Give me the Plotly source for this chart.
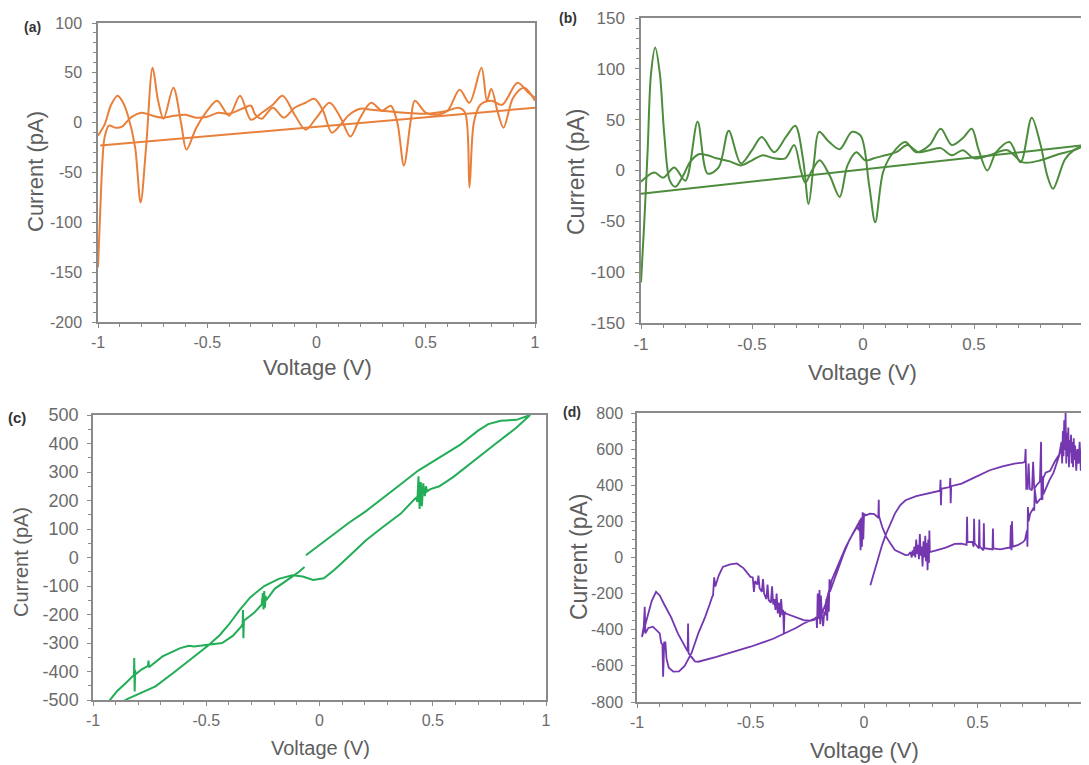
import plotly.graph_objects as go

W, H = 1089, 765

# ---------------- data (voltage V, current pA) ----------------
# Panel (a)
A_WAVE1 = [(-1.0, -13), (-0.97, -2), (-0.94, 18), (-0.91, 27), (-0.885, 20), (-0.86, 5), (-0.83, -25),
           (-0.805, -80), (-0.78, -25), (-0.75, 55), (-0.725, 22), (-0.70, 4), (-0.655, 35), (-0.62, 0),
           (-0.595, -27), (-0.55, -5), (-0.50, 12), (-0.455, 22), (-0.40, 7), (-0.35, 27), (-0.30, 3),
           (-0.25, 10), (-0.20, 18), (-0.155, 27), (-0.10, 8), (-0.05, -7), (0.0, 5), (0.06, 20),
           (0.11, 5), (0.155, -14), (0.20, 5), (0.25, 20), (0.30, 12), (0.34, 17), (0.37, 0),
           (0.40, -43), (0.43, 0), (0.45, 22), (0.50, 10), (0.55, 8), (0.60, 12), (0.655, 33),
           (0.70, 20), (0.755, 55), (0.78, 22), (0.80, 34), (0.83, 10), (0.856, -5), (0.90, 25),
           (0.95, 35), (1.0, 22)]
A_WAVE2 = [(-1.0, -145), (-0.99, -90), (-0.98, -40), (-0.97, -15), (-0.95, -3), (-0.92, -5), (-0.89, -4),
           (-0.85, 5), (-0.80, 10), (-0.75, 7), (-0.70, 5), (-0.65, 7), (-0.60, 8), (-0.55, 5),
           (-0.50, 6), (-0.45, 10), (-0.40, 9), (-0.33, 15), (-0.30, 17), (-0.28, 8), (-0.25, 4),
           (-0.20, 15), (-0.15, 5), (-0.10, 15), (-0.05, 20), (-0.01, 24), (0.03, 12), (0.07, -10),
           (0.11, -2), (0.15, 8), (0.20, 14), (0.25, 13), (0.30, 12), (0.40, 10), (0.50, 9),
           (0.60, 12), (0.65, 15), (0.68, 10), (0.70, -65), (0.72, 0), (0.75, 18), (0.80, 22),
           (0.85, 18), (0.92, 40), (0.97, 30), (1.0, 25)]
A_LINE = [(1.0, 15), (-0.99, -23)]

# Panel (b)
B_WAVE1 = [(-1.0, -110), (-0.985, -50), (-0.97, 20), (-0.955, 95), (-0.936, 121), (-0.915, 95),
           (-0.895, 35), (-0.87, -10), (-0.845, -16), (-0.81, -5), (-0.78, 8), (-0.74, 16), (-0.70, 15),
           (-0.66, 12), (-0.60, 9), (-0.55, 5), (-0.50, 10), (-0.45, 15), (-0.40, 12), (-0.35, 12),
           (-0.31, 25), (-0.28, 0), (-0.26, -12), (-0.23, 0), (-0.195, 10), (-0.15, -5), (-0.105, -26),
           (-0.07, 5), (-0.03, 18), (0.01, 10), (0.05, 12), (0.10, 15), (0.15, 18), (0.20, 25),
           (0.25, 18), (0.30, 20), (0.35, 22), (0.40, 15), (0.45, 20), (0.50, 12), (0.57, 15),
           (0.65, 20), (0.72, 8), (0.80, 10), (0.88, 16), (0.95, 20), (1.0, 25)]
B_WAVE2 = [(-1.0, -11), (-0.94, -2), (-0.90, -7), (-0.85, 3), (-0.80, -10), (-0.745, 48), (-0.70, -3),
           (-0.65, 3), (-0.605, 39), (-0.55, 7), (-0.50, 20), (-0.456, 33), (-0.40, 18), (-0.347, 33),
           (-0.305, 44), (-0.27, 11), (-0.245, -33), (-0.22, 10), (-0.198, 38), (-0.152, 28),
           (-0.105, 21), (-0.05, 38), (-0.01, 34), (0.028, -15), (0.055, -51), (0.09, -2), (0.13, 16),
           (0.19, 28), (0.24, 18), (0.30, 25), (0.35, 41), (0.40, 25), (0.45, 32), (0.49, 41),
           (0.52, 21), (0.56, 0), (0.60, 18), (0.66, 28), (0.71, 8), (0.76, 52), (0.80, 25),
           (0.83, -5), (0.856, -18), (0.91, 11), (0.95, 20), (1.0, 25)]
B_LINE = [(1.0, 25), (-1.0, -23)]

# Panel (c)
C_UPPER = [(-0.06, 8), (0.0, 45), (0.065, 84), (0.13, 122), (0.204, 162), (0.28, 210), (0.36, 258),
           (0.436, 305), (0.53, 350), (0.62, 395), (0.70, 445), (0.745, 468), (0.80, 480), (0.87, 483),
           (0.93, 500)]
C_LOWER = [(0.87, 456), (0.776, 398), (0.683, 340), (0.59, 282), (0.529, 250), (0.49, 240), (0.475, 232),
           (0.47, 250), (0.465, 215), (0.458, 260), (0.452, 180), (0.447, 265), (0.442, 170),
           (0.437, 285), (0.432, 195), (0.428, 210), (0.42, 205), (0.359, 154), (0.28, 107),
           (0.204, 60), (0.127, 2), (0.065, -44), (0.019, -73), (-0.028, -79), (-0.074, -67),
           (-0.12, -62)]
C_STEEP = [(-0.18, -75), (-0.244, -100), (-0.306, -140), (-0.353, -185), (-0.40, -235), (-0.44, -272),
           (-0.49, -308), (-0.569, -358), (-0.646, -405), (-0.724, -452), (-0.80, -481), (-0.847, -496),
           (-0.88, -512), (-0.93, -515)]
C_PLATEAU = [(-0.925, -500), (-0.894, -469), (-0.847, -434), (-0.825, -418), (-0.819, -412),
             (-0.818, -353), (-0.816, -470), (-0.814, -395), (-0.812, -410), (-0.786, -393),
             (-0.757, -380), (-0.755, -362), (-0.753, -385), (-0.693, -347), (-0.615, -318),
             (-0.577, -310), (-0.554, -312), (-0.492, -306), (-0.43, -300), (-0.383, -275),
             (-0.345, -242), (-0.339, -232), (-0.338, -184), (-0.336, -283), (-0.334, -222),
             (-0.29, -195), (-0.255, -165), (-0.25, -125), (-0.247, -182), (-0.244, -118),
             (-0.241, -176), (-0.238, -135), (-0.235, -150), (-0.198, -110), (-0.136, -75),
             (-0.097, -54), (-0.066, -33)]

# Panel (d)
D_UPPER = [(0.028, -153), (0.045, -80), (0.059, -15), (0.08, 70), (0.098, 133), (0.12, 200), (0.136, 243),
           (0.16, 290), (0.183, 317), (0.23, 340), (0.276, 354), (0.31, 362), (0.335, 370), (0.337, 430),
           (0.339, 290), (0.341, 380), (0.36, 385), (0.378, 390), (0.38, 440), (0.382, 300),
           (0.384, 395), (0.43, 409), (0.49, 445), (0.554, 483), (0.61, 505), (0.663, 520), (0.70, 525),
           (0.709, 529), (0.712, 600), (0.715, 380), (0.72, 380), (0.725, 520), (0.73, 380), (0.74, 372),
           (0.745, 530), (0.75, 380), (0.76, 400), (0.775, 420), (0.78, 640), (0.782, 320), (0.79, 440),
           (0.80, 470), (0.82, 480), (0.84, 530), (0.86, 570), (0.87, 640), (0.873, 520), (0.876, 700),
           (0.879, 560), (0.882, 760), (0.885, 600), (0.888, 800), (0.891, 520), (0.894, 690),
           (0.897, 560), (0.90, 720), (0.903, 500), (0.906, 650), (0.909, 580), (0.912, 680),
           (0.915, 520), (0.918, 640), (0.921, 500), (0.924, 660), (0.927, 540), (0.93, 620),
           (0.935, 480), (0.94, 600), (0.945, 520), (0.95, 640), (0.955, 480), (0.96, 610),
           (0.965, 510), (0.97, 580), (0.975, 470), (0.98, 560), (0.985, 500), (0.99, 540)]
D_RETURN = [(0.99, 530), (0.96, 560), (0.93, 590), (0.90, 600), (0.87, 600), (0.864, 580), (0.85, 520),
            (0.835, 470), (0.817, 428), (0.80, 380), (0.79, 350), (0.788, 450), (0.786, 320),
            (0.78, 330), (0.771, 317), (0.76, 300), (0.752, 380), (0.75, 260), (0.745, 270),
            (0.732, 243), (0.725, 200), (0.722, 280), (0.72, 60), (0.718, 150), (0.709, 96),
            (0.70, 85), (0.68, 70), (0.66, 62), (0.655, 60), (0.652, 200), (0.65, 40), (0.647, 180),
            (0.644, 50), (0.64, 55), (0.62, 50), (0.60, 45), (0.585, 48), (0.57, 50), (0.568, 160),
            (0.566, 45), (0.53, 52), (0.528, 190), (0.526, 40), (0.51, 60), (0.508, 210), (0.506, 50),
            (0.487, 80), (0.485, 215), (0.483, 60), (0.477, 87), (0.456, 85), (0.454, 225),
            (0.452, 70), (0.43, 77), (0.40, 75), (0.36, 55), (0.322, 41), (0.30, 35), (0.29, 30),
            (0.288, 150), (0.286, -30), (0.283, 100), (0.28, -70), (0.277, 80), (0.273, -20),
            (0.27, 120), (0.266, 0), (0.262, 90), (0.258, -50), (0.254, 60), (0.25, 10), (0.246, 130),
            (0.242, -10), (0.238, 70), (0.234, 20), (0.23, 100), (0.226, 0), (0.222, 60), (0.218, 10),
            (0.214, 40), (0.21, 0), (0.205, 30), (0.195, 15), (0.183, 13), (0.16, 25), (0.136, 41),
            (0.118, 75), (0.098, 114), (0.08, 170), (0.07, 210), (0.066, 230), (0.065, 320),
            (0.063, 220), (0.045, 240), (0.028, 243), (0.01, 235), (0.0, 240), (-0.003, 100),
            (-0.006, 250), (-0.009, 60), (-0.012, 220), (-0.015, 40), (-0.019, 206), (-0.022, 150),
            (-0.03, 170), (-0.04, 150), (-0.065, 96), (-0.09, 20), (-0.111, -52), (-0.135, -130),
            (-0.15, -190), (-0.152, -120), (-0.155, -300), (-0.158, -199), (-0.162, -350),
            (-0.166, -230), (-0.17, -320), (-0.175, -300), (-0.18, -380), (-0.185, -330),
            (-0.19, -210), (-0.193, -370), (-0.196, -180), (-0.2, -340), (-0.204, -200),
            (-0.207, -390), (-0.21, -330), (-0.22, -345), (-0.24, -350), (-0.266, -347), (-0.3, -330),
            (-0.344, -310), (-0.35, -300), (-0.353, -420), (-0.356, -290), (-0.36, -320),
            (-0.365, -230), (-0.37, -330), (-0.375, -250), (-0.38, -310), (-0.385, -200),
            (-0.39, -290), (-0.395, -230), (-0.40, -260), (-0.405, -160), (-0.41, -250),
            (-0.42, -236), (-0.425, -150), (-0.43, -230), (-0.44, -200), (-0.445, -120),
            (-0.45, -190), (-0.46, -170), (-0.465, -100), (-0.47, -150), (-0.48, -130),
            (-0.485, -190), (-0.49, -110), (-0.5, -107), (-0.53, -60), (-0.56, -33), (-0.59, -38),
            (-0.622, -52), (-0.64, -100), (-0.655, -160), (-0.66, -110), (-0.665, -210),
            (-0.669, -218), (-0.68, -260), (-0.7, -330), (-0.73, -420), (-0.76, -530), (-0.79, -600),
            (-0.815, -630), (-0.84, -632), (-0.86, -610), (-0.87, -560), (-0.875, -470),
            (-0.88, -470), (-0.885, -660), (-0.888, -480), (-0.893, -475), (-0.9, -420),
            (-0.93, -383), (-0.95, -390), (-0.963, -420), (-0.966, -273), (-0.97, -380),
            (-0.978, -440)]
D_LOOP = [(-0.978, -440), (-0.955, -330), (-0.935, -240), (-0.916, -190), (-0.9, -210), (-0.88, -260),
          (-0.85, -330), (-0.82, -420), (-0.79, -490), (-0.777, -520), (-0.775, -365), (-0.773, -530),
          (-0.76, -550), (-0.745, -575), (-0.73, -577), (-0.65, -550), (-0.5, -494), (-0.4, -450),
          (-0.3, -390), (-0.266, -365), (-0.22, -340), (-0.189, -320), (-0.17, -260), (-0.142, -125),
          (-0.11, -30), (-0.08, 59), (-0.05, 130), (-0.034, 170), (-0.015, 210), (0.0, 230),
          (0.028, 243)]

X_TICKS = [-1, -0.5, 0, 0.5, 1]
X_TICK_TEXT = ["-1", "-0.5", "0", "0.5", "1"]
D_X_TICK_TEXT = ["-1", "-0.5", "0", "0.5", ""]  # the "1" of panel (d) falls off the page
A_Y_TICKS = [-200, -150, -100, -50, 0, 50, 100]
B_Y_TICKS = [-150, -100, -50, 0, 50, 100, 150]
C_Y_TICKS = [-500, -400, -300, -200, -100, 0, 100, 200, 300, 400, 500]
D_Y_TICKS = [-800, -600, -400, -200, 0, 200, 400, 600, 800]

# ---------------- styling helpers ----------------
FONT = "Liberation Sans, Arial, sans-serif"
AX_COL = "#8a8a8a"
TICK_FONT_COL = "#6b6b6b"
TITLE_COL = "#5e5e5e"
OFF = 8  # the page body adds an 8 px offset; positions below are screen pixels


def px(x):
    return (x - OFF) / W


def py(y):
    return 1 - (y - OFF) / H


def xy(pairs):
    return [p[0] for p in pairs], [p[1] for p in pairs]


fig = go.Figure()


def add(pairs, color, axis, width=2.0, spline=False):
    v, i = xy(pairs)
    fig.add_trace(go.Scatter(
        x=v, y=i, mode="lines", xaxis="x" + axis, yaxis="y" + axis,
        line=dict(color=color, width=width, shape="spline" if spline else "linear", smoothing=0.9),
        showlegend=False, hoverinfo="skip"))


ORANGE = "#E8803B"
DKGREEN = "#4D8C3D"
GREEN = "#22AD56"
PURPLE = "#7437B0"

add(A_WAVE1, ORANGE, "", 2.0, True)
add(A_WAVE2, ORANGE, "", 2.0, True)
add(A_LINE, ORANGE, "", 2.0)
add(B_WAVE1, DKGREEN, "2", 2.0, True)
add(B_WAVE2, DKGREEN, "2", 2.0, True)
add(B_LINE, DKGREEN, "2", 2.0)
add(C_UPPER + C_LOWER + C_STEEP + C_PLATEAU, GREEN, "3", 2.0)
add(D_UPPER + D_RETURN + D_LOOP, PURPLE, "4", 1.8)


def xaxis(dom, anchor, rng, fs, labels=X_TICK_TEXT, standoff=1):
    return dict(domain=dom, anchor=anchor, range=rng, tickmode="array", tickvals=X_TICKS,
                ticktext=labels, ticks="outside", ticklen=4, tickwidth=1.2, tickcolor=AX_COL,
                showline=True, linecolor=AX_COL, linewidth=1.5, mirror=True, showgrid=False,
                zeroline=False, tickfont=dict(family=FONT, size=fs, color=TICK_FONT_COL),
                ticklabelstandoff=standoff, automargin=False,
                minor=dict(dtick=0.1, ticks="outside", ticklen=3, tickcolor=AX_COL, tickwidth=1,
                           showgrid=False))


def yaxis(dom, anchor, rng, vals, minor, fs, standoff=6):
    return dict(domain=dom, anchor=anchor, range=rng, tickmode="array", tickvals=vals,
                ticktext=[str(v) for v in vals], ticks="outside", ticklen=4, tickwidth=1.2,
                tickcolor=AX_COL, showline=True, linecolor=AX_COL, linewidth=1.5, mirror=True,
                showgrid=False, zeroline=False, automargin=False,
                tickfont=dict(family=FONT, size=fs, color=TICK_FONT_COL),
                ticklabelstandoff=standoff,
                minor=dict(dtick=minor, ticks="outside", ticklen=3, tickcolor=AX_COL, tickwidth=1,
                           showgrid=False))


fig.update_layout(
    width=W, height=H, margin=dict(l=0, r=0, t=0, b=0, pad=0, autoexpand=False),
    paper_bgcolor="white", plot_bgcolor="white",
    xaxis=xaxis([px(98), px(535)], "y", [-1, 1], 16),
    yaxis=yaxis([py(322), py(23)], "x", [-200, 100], A_Y_TICKS, 10, 16, 7),
    xaxis2=xaxis([px(641), px(1085)], "y2", [-1, 1], 17),
    yaxis2=yaxis([py(323), py(18)], "x2", [-150, 150], B_Y_TICKS, 10, 17, 7),
    xaxis3=xaxis([px(93), px(546)], "y3", [-1, 1], 16),
    yaxis3=yaxis([py(700), py(415)], "x3", [-500, 500], C_Y_TICKS, 50, 18, 5),
    xaxis4=xaxis([px(637), px(1091)], "y4", [-1, 1], 16, D_X_TICK_TEXT),
    yaxis4=yaxis([py(702), py(413)], "x4", [-800, 800], D_Y_TICKS, 50, 16, 5),
)

ann = []


def text(t, x, y, size, color=TITLE_COL, angle=0, bold=False):
    ann.append(dict(text=("<b>%s</b>" % t) if bold else t, x=px(x), y=py(y), xref="paper",
                    yref="paper", showarrow=False, textangle=angle, xanchor="center",
                    yanchor="middle", font=dict(family=FONT, size=size, color=color)))


text("(a)", 32, 27, 14, "#333333", bold=True)
text("(b)", 568, 18, 14, "#333333", bold=True)
text("(c)", 17, 417, 15, "#333333", bold=True)
text("(d)", 572, 412, 14, "#333333", bold=True)

text("Current (pA)", 35, 172, 22, angle=-90)
text("Voltage (V)", 317, 367, 22)
text("Current (pA)", 576, 172, 23, angle=-90)
text("Voltage (V)", 862, 372, 22)
text("Current (pA)", 21, 562, 20, angle=-90)
text("Voltage (V)", 320, 748, 20)
text("Current (pA)", 579, 557, 23, angle=-90)
text("Voltage (V)", 864, 750, 22)

fig.update_layout(annotations=ann)
fig.write_html("out.html")
